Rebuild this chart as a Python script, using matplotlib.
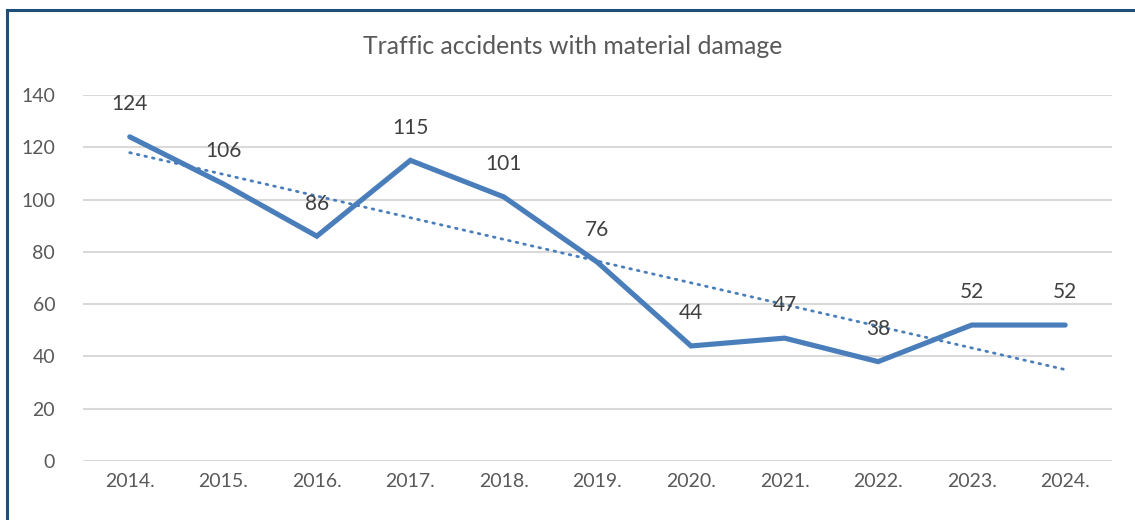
import numpy as np
import matplotlib.pyplot as plt
from matplotlib.lines import Line2D

plt.rcParams['font.family'] = ['Lato', 'DejaVu Sans']

years = ['2014.', '2015.', '2016.', '2017.', '2018.', '2019.', '2020.', '2021.', '2022.', '2023.', '2024.']
accidents = [124, 106, 86, 115, 101, 76, 44, 47, 38, 52, 52]
yticks = [0, 20, 40, 60, 80, 100, 120, 140]

blue = '#4A7EBB'
grey = '#595959'

fig = plt.figure(figsize=(11.35, 5.2), dpi=100)
ax = fig.add_axes([0.0731, 0.1135, 0.9066, 0.7038])

x = np.arange(len(years))
ax.plot(x, accidents, color=blue, lw=3.7, solid_capstyle='round', solid_joinstyle='miter', zorder=3)

# linear trendline
k, b = np.polyfit(x, accidents, 1)
ax.plot(x, k * x + b, color=blue, lw=2, linestyle=(0, (0.6, 2.2)), dash_capstyle='round', zorder=2)

for xi, v in zip(x, accidents):
    ax.annotate(str(v), (xi, v), xytext=(0, 23.5), textcoords='offset points',
                ha='center', va='center', fontsize=15, color='#404040', zorder=4)

ax.set_xlim(-0.5, len(years) - 0.5)
ax.set_ylim(0, 140)
ax.set_xticks(x)
ax.set_xticklabels(years)
ax.set_yticks(yticks)
ax.tick_params(length=0, labelsize=14, colors=grey, pad=9)
ax.tick_params(axis='y', pad=20)
ax.grid(axis='y', color='#D9D9D9', lw=1.5)
ax.set_axisbelow(True)
for s in ax.spines.values():
    s.set_visible(False)

fig.text(0.505, 0.91, 'Traffic accidents with material damage', ha='center', va='center',
         fontsize=17.8, color=grey)

# frame edges
fig.add_artist(Line2D([7 / 1135, 1], [1 - 9.5 / 520, 1 - 9.5 / 520], color='#1F4E79', lw=2.2))
fig.add_artist(Line2D([7 / 1135, 7 / 1135], [0, 1 - 9.5 / 520], color='#1F4E79', lw=2.2))

fig.savefig('out.png', dpi=100)
